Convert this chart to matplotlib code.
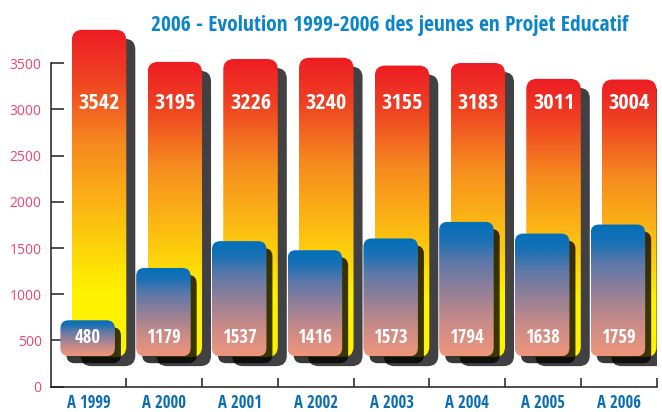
import numpy as np
import matplotlib
matplotlib.use("Agg")
import matplotlib.pyplot as plt
from matplotlib.patches import FancyBboxPatch
from matplotlib.colors import LinearSegmentedColormap
from matplotlib.transforms import offset_copy

# Data
years = ['A 1999', 'A 2000', 'A 2001', 'A 2002', 'A 2003', 'A 2004', 'A 2005', 'A 2006']
total = [3542, 3195, 3226, 3240, 3155, 3183, 3011, 3004]
projet = [480, 1179, 1537, 1416, 1573, 1794, 1638, 1759]
yticks = [0, 500, 1000, 1500, 2000, 2500, 3000, 3500]

title = '2006 - Evolution 1999-2006 des jeunes en Projet Educatif'

narrow = ['Open Sans Condensed', 'PT Sans Narrow', 'DejaVu Sans']
regular = ['Open Sans', 'DejaVu Sans']
red_txt = '#ee4570'
blue_title = '#0a86c8'
blue_lbl = '#0b6db4'

warm = LinearSegmentedColormap.from_list('warm', [
    (0.0, '#fff200'), (0.2, '#fff200'), (0.45, '#fcb814'),
    (0.65, '#f68a1f'), (0.85, '#ef4123'), (1.0, '#ed1c24')])
cool = LinearSegmentedColormap.from_list('cool', [
    (0.0, '#ef957b'), (0.25, '#c98b87'), (0.5, '#8f7f99'),
    (0.7, '#5d78a8'), (0.86, '#1a70b5'), (1.0, '#0070ba')])

fig = plt.figure(figsize=(6.62, 4.12), dpi=100)
pos = [50.7 / 662, 25.3 / 412, 606 / 662, 360.4 / 412]
ax = fig.add_axes(pos)
ax.set_xlim(-0.5, len(years) - 0.5)
ax.set_ylim(0, 3900)

# front series lives on its own (hidden) scale, like in the original drawing
front_base, front_scale = 330, 0.81
ax2 = fig.add_axes(pos, frameon=False)
ax2.set_xlim(ax.get_xlim())
ax2.set_ylim(-front_base / front_scale, (3900 - front_base) / front_scale)
ax2.axis('off')


def data_aspect(a):
    p0 = a.transData.transform((0, 0))
    p1 = a.transData.transform((1, 1))
    return (p1[0] - p0[0]) / (p1[1] - p0[1])


def rounded_bar(a, x, y, w, h, r, cmap, shadow, shadow_off, z):
    asp = data_aspect(a)
    style = f'round,pad=0,rounding_size={r}'
    sh = FancyBboxPatch((x, y), w, h, boxstyle=style, mutation_aspect=asp,
                        facecolor=shadow[0], alpha=shadow[1], edgecolor='none',
                        transform=offset_copy(a.transData, fig=fig, x=shadow_off[0],
                                              y=shadow_off[1], units='dots'),
                        zorder=z)
    a.add_patch(sh)
    p = FancyBboxPatch((x, y), w, h, boxstyle=style, mutation_aspect=asp,
                       facecolor='none', edgecolor='none', zorder=z + 1)
    a.add_patch(p)
    grad = np.linspace(0, 1, 256).reshape(-1, 1)
    im = a.imshow(grad, cmap=cmap, extent=(x, x + w, y, y + h), origin='lower',
                  aspect='auto', zorder=z + 1)
    im.set_clip_path(p)


w = 0.72
for i, v in enumerate(total):
    rounded_bar(ax, i - 0.222, 320, w, v, 0.14, warm, ('#414042', 1.0), (9, -9), 2)
    ax.text(i + 0.138, 3070, str(v), ha='center', va='center', color='white',
            fontsize=16, fontweight='bold', family=narrow, zorder=10)
ax.set_xlim(-0.5, len(years) - 0.5)
ax.set_ylim(0, 3900)

for i, v in enumerate(projet):
    rounded_bar(ax2, i - 0.372, 0, w, v, 0.11, cool, ('black', 0.78), (6, -7), 4)
    ax2.text(i - 0.012, 240, str(v), ha='center', va='center', color='white',
             fontsize=13.5, fontweight='bold', family=narrow, zorder=10)
ax2.set_xlim(ax.get_xlim())
ax2.set_ylim(-front_base / front_scale, (3900 - front_base) / front_scale)

# axes styling
for s in ['top', 'right']:
    ax.spines[s].set_visible(False)
ax.spines['left'].set_bounds(0, 3500)
for s in ['left', 'bottom']:
    ax.spines[s].set_linewidth(1.1)
    ax.spines[s].set_color('#231f20')
ax.set_yticks(yticks)
ax.tick_params(axis='y', direction='in', length=9.5, width=1.1, color='#231f20',
               pad=6.5, labelcolor=red_txt, labelsize=10)
for t in ax.get_yticklabels():
    t.set_family(regular)
ax.set_xticks(np.arange(len(years)) + 0.5)
ax.set_xticklabels([])
ax.set_xticks(np.arange(len(years)), minor=True)
ax.set_xticklabels(years, minor=True)
ax.tick_params(axis='x', which='major', direction='in', length=6.5, width=1.1,
               color='#231f20')
ax.tick_params(axis='x', which='minor', length=0, pad=5.5, labelcolor=blue_lbl,
               labelsize=12)
for t in ax.get_xticklabels(minor=True):
    t.set_family(narrow)
    t.set_fontweight('bold')

fig.text(0.588, 0.937, title, ha='center', va='center', color=blue_title,
         fontsize=15.5, fontweight='bold', family=narrow)

fig.savefig('out.png', dpi=100)
